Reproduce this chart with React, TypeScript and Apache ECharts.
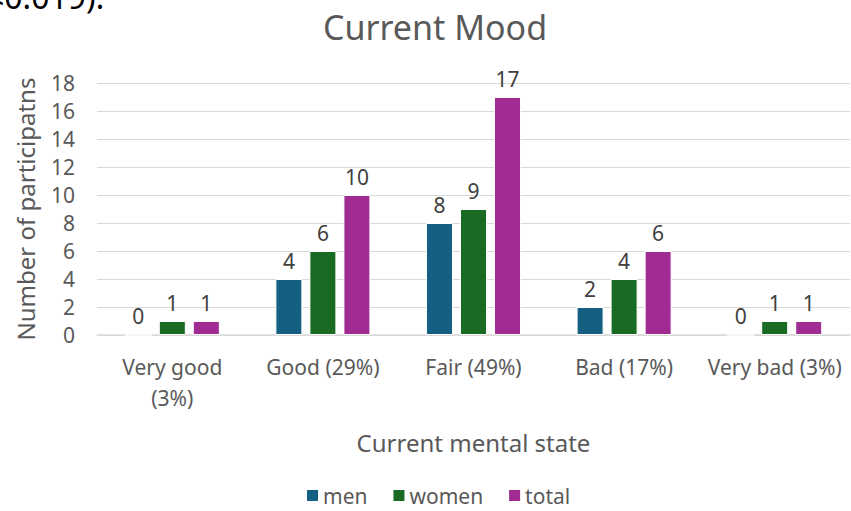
import React, { useEffect, useRef } from "react";
import * as echarts from "echarts";

const categories = ["Very good\n(3%)", "Good (29%)", "Fair (49%)", "Bad (17%)", "Very bad (3%)"];
const men = [0, 4, 8, 2, 0];
const women = [1, 6, 9, 4, 1];
const total = [1, 10, 17, 6, 1];
const seriesNames = ["men", "women", "total"];
const colors = ["#156082", "#196B24", "#A02B93"];

const FONT = "Noto Sans";

export default function App() {
  const ref = useRef<HTMLDivElement>(null);
  useEffect(() => {
    const chart = echarts.init(ref.current!, null, { renderer: "svg" });
    const data = [men, women, total];
    chart.setOption({
      animation: false,
      textStyle: { fontFamily: FONT },
      title: {
        text: "Current Mood",
        left: 430,
        textAlign: "center",
        top: 5,
        textStyle: { fontFamily: FONT, fontSize: 34, fontWeight: "normal", color: "#595959" },
      },
      graphic: [
        {
          type: "text",
          x: -14,
          y: 12,
          style: { text: "<0.019).", fontFamily: FONT, fontSize: 32, fill: "#000", verticalAlign: "bottom" },
        },
      ],
      legend: {
        bottom: 0,
        left: 300,
        itemWidth: 13,
        itemHeight: 13,
        itemGap: 24,
        icon: "rect",
        textStyle: { fontFamily: FONT, fontSize: 21, color: "#595959", padding: [0, 0, 0, -1] },
        data: seriesNames,
      },
      grid: { left: 97, right: 1, top: 83, bottom: 176 },
      xAxis: {
        type: "category",
        data: categories,
        axisTick: { show: false },
        axisLine: { lineStyle: { color: "#d9d9d9", width: 1.5 } },
        axisLabel: { fontFamily: FONT, fontSize: 21, color: "#595959", margin: 16, lineHeight: 31, interval: 0 },
        name: "Current mental state",
        nameLocation: "middle",
        nameGap: 95,
        nameTextStyle: { fontFamily: FONT, fontSize: 24, color: "#595959" },
      },
      yAxis: {
        type: "value",
        min: 0,
        max: 18,
        interval: 2,
        axisLine: { show: false },
        axisTick: { show: false },
        splitLine: { lineStyle: { color: "#d9d9d9", width: 1 } },
        axisLabel: { fontFamily: FONT, fontSize: 21, color: "#595959", margin: 22 },
        name: "Number of participatns",
        nameLocation: "middle",
        nameGap: 60,
        nameRotate: 90,
        nameTextStyle: { fontFamily: FONT, fontSize: 24, color: "#595959" },
      },
      series: seriesNames.map((n, i) => ({
        name: n,
        type: "bar",
        data: data[i],
        barWidth: 27,
        barGap: "26%",
        itemStyle: { color: colors[i], borderColor: "#fff", borderWidth: 1 },
        label: { show: true, position: "top", distance: 8, fontFamily: FONT, fontSize: 21, color: "#404040" },
      })),
    });
    return () => chart.dispose();
  }, []);
  return <div ref={ref} style={{ width: 851, height: 511, position: "absolute", left: 0, top: 0 }} />;
}
